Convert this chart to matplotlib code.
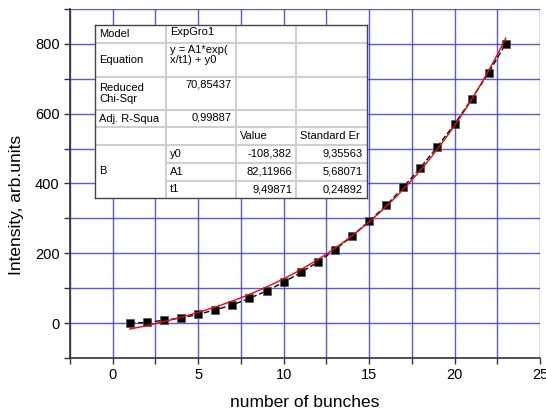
import numpy as np
import matplotlib
matplotlib.use("Agg")
import matplotlib.pyplot as plt
from matplotlib.ticker import MultipleLocator

plt.rcParams['font.family'] = ['Liberation Sans', 'DejaVu Sans']

# measured points
bunches = [1, 2, 3, 4, 5, 6, 7, 8, 9, 10, 11, 12, 13, 14, 15, 16, 17, 18, 19, 20, 21, 22, 23]
intensity = [0, 2, 8, 15, 25, 38, 52, 71, 92, 117, 145, 175, 210, 249, 292,
             337, 389, 445, 506, 570, 642, 718, 801]

# ExpGro1 fit parameters
y0 = -108.382
A1 = 82.11966
t1 = 9.49871

table_rows = [
    ["Model", "ExpGro1", "", ""],
    ["Equation", "y = A1*exp(\nx/t1) + y0", "", ""],
    ["Reduced\nChi-Sqr", "70,85437", "", ""],
    ["Adj. R-Squa", "0,99887", "", ""],
    ["", "", "Value", "Standard Er"],
    ["B", "y0", "-108,382", "9,35563"],
    ["", "A1", "82,11966", "5,68071"],
    ["", "t1", "9,49871", "0,24892"],
]

fig = plt.figure(figsize=(5.46, 4.12), dpi=100)
W, H = 546, 412
ax = fig.add_axes([70 / W, 1 - 358 / H, 470 / W, 349 / H])

ax.set_xlim(-2.5, 25)
ax.set_ylim(-100, 900)
ax.xaxis.set_major_locator(MultipleLocator(5))
ax.xaxis.set_minor_locator(MultipleLocator(2.5))
ax.yaxis.set_major_locator(MultipleLocator(200))
ax.yaxis.set_minor_locator(MultipleLocator(100))
ax.grid(True, which='both', color='#3a3aff', lw=1.0, alpha=0.85)
ax.set_axisbelow(True)
for s in ['top', 'right']:
    ax.spines[s].set_visible(False)
for s in ['left', 'bottom']:
    ax.spines[s].set_color('#333333')
    ax.spines[s].set_linewidth(1.2)
ax.tick_params(which='both', direction='out', length=4, width=1, colors='#333333',
               labelsize=10.5, labelcolor='black')
ax.set_yticks([0, 200, 400, 600, 800])
ax.set_yticklabels(['0', '200', '400', '600', '800'])

xf = np.linspace(1, 23, 200)
ax.plot(bunches, intensity, color='black', lw=1, ls=(0, (4, 2)), marker='s', ms=6,
        mfc='black', mec='#555555', mew=0.5, zorder=3)
ax.plot(xf, A1 * np.exp(xf / t1) + y0, color='red', lw=1, zorder=4)

ax.set_xlabel("number of bunches", fontsize=12.5, labelpad=9)
ax.set_ylabel("Intensity, arb.units", fontsize=12.5)
ax.yaxis.set_label_coords(-0.098, 0.438)

# fit result table
tx0, tx1, ty0, ty1 = 95, 367, 25, 198
tab = fig.add_axes([tx0 / W, 1 - ty1 / H, (tx1 - tx0) / W, (ty1 - ty0) / H])
tab.set_xlim(0, tx1 - tx0)
tab.set_ylim(ty1 - ty0, 0)
tab.set_xticks([])
tab.set_yticks([])
for s in tab.spines.values():
    s.set_color('#444444')
    s.set_linewidth(1)
tab.set_facecolor('white')

col_x = [0, 71, 141, 201, 272]
row_y = [0, 18, 52, 85, 102, 120, 138, 156, 173]
gray = '#cfcfcf'
for cx in col_x[1:-1]:
    tab.plot([cx, cx], [0, 173], color=gray, lw=1.5)
for i, ry in enumerate(row_y[1:-1], start=1):
    start = 71 if i >= 6 else 0
    tab.plot([start, 272], [ry, ry], color=gray, lw=1.5)

fs = 8
for i, row in enumerate(table_rows):
    top, bot = row_y[i], row_y[i + 1]
    for j, txt in enumerate(row):
        if not txt:
            continue
        if j == 0:
            if txt == "B":
                tab.text(4, (row_y[5] + row_y[8]) / 2, txt, fontsize=fs, va='center', ha='left')
            else:
                tab.text(4, (top + bot) / 2, txt, fontsize=fs, va='center', ha='left',
                         linespacing=1.05)
        elif i <= 3 and j == 1:
            if i in (0, 1):
                tab.text(col_x[1] + 4, top + 2, txt, fontsize=fs, va='top', ha='left',
                         linespacing=1.05)
            else:
                tab.text(col_x[2] - 4, top + 2, txt, fontsize=fs, va='top', ha='right')
        elif i == 4 or j == 1:
            tab.text(col_x[j] + 4, (top + bot) / 2, txt, fontsize=fs, va='center', ha='left')
        else:
            tab.text(col_x[j + 1] - 4, (top + bot) / 2, txt, fontsize=fs, va='center',
                     ha='right')

fig.savefig("out.png", dpi=100)
